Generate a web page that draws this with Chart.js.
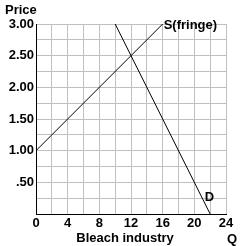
<!DOCTYPE html>
<html lang="en">
<head>
  <meta charset="UTF-8">
  <title>Bleach industry</title>
  <script src="https://cdn.jsdelivr.net/npm/chart.js"></script>
  <style>
    html, body {
      margin: 0;
      padding: 0;
      background: #ffffff;
    }
    #wrap {
      width: 242px;
      height: 246px;
    }
  </style>
</head>
<body>
  <div id="wrap"><canvas id="chart" width="242" height="246"></canvas></div>

  <script>
    // supply of the fringe and industry demand
    const supplyQ = [0, 16];
    const supplyP = [1.00, 3.00];
    const demandQ = [10, 22];
    const demandP = [3.00, 0];

    // curve labels, anchored in data units
    const curveNames = ["S(fringe)", "D"];
    const curveLabelQ = [16, 21.2];
    const curveLabelP = [3.0, 0.28];

    const xTitle = "Bleach industry";
    const yTitle = "Price";
    const qTitle = "Q";

    const FONT = "'Liberation Sans', Arial, sans-serif";

    function toPoints(xs, ys) {
      return xs.map((x, i) => ({ x: x, y: ys[i] }));
    }

    const textPlugin = {
      id: "textPlugin",
      afterDraw(chart) {
        const ctx = chart.ctx;
        const xs = chart.scales.x;
        const ys = chart.scales.y;
        ctx.save();
        ctx.fillStyle = "#000";
        ctx.font = "bold 13px " + FONT;
        ctx.textBaseline = "middle";
        ctx.textAlign = "left";
        curveNames.forEach((name, i) => {
          ctx.fillText(name, xs.getPixelForValue(curveLabelQ[i]) + 1, ys.getPixelForValue(curveLabelP[i]) + 1);
        });
        ctx.fillText(yTitle, 5, 10);
        ctx.textAlign = "center";
        ctx.fillText(xTitle, 125, 238);
        ctx.fillText(qTitle, 232, 239);
        ctx.restore();
      }
    };

    new Chart(document.getElementById("chart"), {
      type: "scatter",
      data: {
        datasets: [
          {
            label: "S(fringe)",
            data: toPoints(supplyQ, supplyP),
            showLine: true,
            borderColor: "#000",
            borderWidth: 1,
            pointRadius: 0
          },
          {
            label: "D",
            data: toPoints(demandQ, demandP),
            showLine: true,
            borderColor: "#000",
            borderWidth: 1,
            pointRadius: 0
          }
        ]
      },
      options: {
        responsive: false,
        animation: false,
        layout: { padding: { left: 0, top: 24, right: 16, bottom: 0 } },
        plugins: {
          legend: { display: false },
          tooltip: { enabled: false }
        },
        scales: {
          x: {
            type: "linear",
            min: 0,
            max: 24,
            afterFit(scale) { scale.height = 32; },
            grid: { color: "#c0c0c0", drawTicks: false },
            border: { color: "#000", width: 1 },
            ticks: {
              stepSize: 2,
              padding: 2,
              maxRotation: 0,
              autoSkip: false,
              color: "#000",
              font: { family: FONT, size: 13, weight: "bold" },
              callback: (v) => (v % 4 === 0 ? String(v) : "")
            }
          },
          y: {
            min: 0,
            max: 3,
            afterFit(scale) { scale.width = 36; },
            grid: { color: "#c0c0c0", drawTicks: false },
            border: { color: "#000", width: 1 },
            ticks: {
              stepSize: 0.25,
              padding: 2,
              autoSkip: false,
              color: "#000",
              font: { family: FONT, size: 13, weight: "bold" },
              callback: (v) => {
                if (v === 0 || Math.round(v * 100) % 50 !== 0) return "";
                return v < 1 ? ".50" : v.toFixed(2);
              }
            }
          }
        }
      },
      plugins: [textPlugin]
    });
  </script>
</body>
</html>
